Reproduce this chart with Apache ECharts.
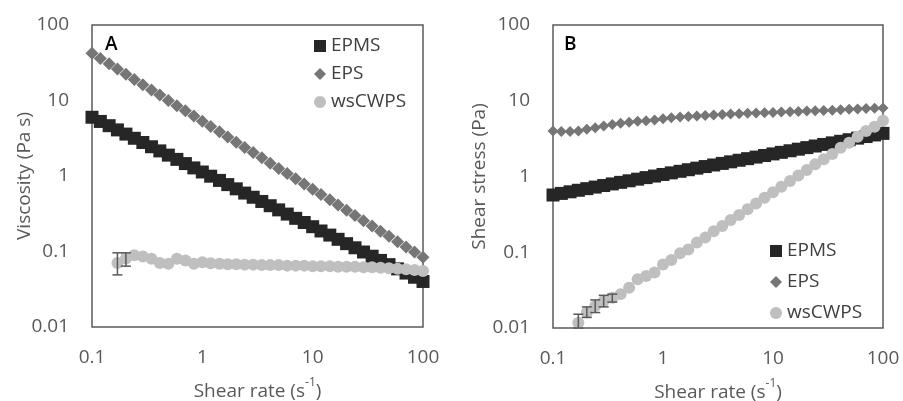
<!DOCTYPE html>
<html>
<head>
<meta charset="utf-8">
<script src="https://cdn.jsdelivr.net/npm/echarts@6/dist/echarts.min.js"></script>
<style>
html,body{margin:0;padding:0;background:#fff;}
#c{width:903px;height:401px;}
</style>
</head>
<body>
<div id="c"></div>
<script>
// Shear rate (s^-1)
const shearRate = [0.1, 0.119, 0.143, 0.170, 0.203, 0.242, 0.289, 0.346, 0.412, 0.492,
  0.588, 0.702, 0.838, 1, 1.19, 1.43, 1.70, 2.03, 2.42, 2.89,
  3.46, 4.12, 4.92, 5.88, 7.02, 8.38, 10, 11.9, 14.3, 17.0,
  20.3, 24.2, 28.9, 34.6, 41.2, 49.2, 58.8, 70.2, 83.8, 100];

// Panel A: viscosity (Pa s)
const viscEPMS = [6.00, 5.28, 4.64, 4.08, 3.59, 3.16, 2.78, 2.44, 2.15, 1.89,
  1.66, 1.46, 1.28, 1.13, 0.994, 0.874, 0.769, 0.676, 0.594, 0.523,
  0.460, 0.404, 0.356, 0.313, 0.275, 0.242, 0.213, 0.187, 0.165, 0.145,
  0.127, 0.112, 0.0985, 0.0866, 0.0762, 0.0670, 0.0589, 0.0518, 0.0456, 0.0401];
const viscEPS = [42.2, 35.9, 30.6, 26.1, 22.3, 19.0, 16.2, 13.8, 11.8, 10.0,
  8.55, 7.30, 6.22, 5.30, 4.52, 3.85, 3.29, 2.80, 2.39, 2.04,
  1.74, 1.48, 1.26, 1.08, 0.917, 0.782, 0.666, 0.568, 0.484, 0.413,
  0.352, 0.300, 0.256, 0.218, 0.186, 0.159, 0.135, 0.115, 0.0983, 0.0838];
const viscWs = [null, null, null, 0.0705, 0.0805, 0.089, 0.086, 0.080, 0.0705, 0.069,
  0.080, 0.076, 0.069, 0.072, 0.070, 0.069, 0.068, 0.068, 0.067, 0.067,
  0.066, 0.066, 0.066, 0.065, 0.065, 0.065, 0.064, 0.064, 0.064, 0.063,
  0.063, 0.063, 0.062, 0.062, 0.061, 0.060, 0.059, 0.058, 0.057, 0.055];
const viscErrIdx = [3, 4];
const viscErrLow = [0.049, 0.064];
const viscErrHigh = [0.096, 0.096];

// Panel B: shear stress (Pa)
const stressEPMS = [0.570, 0.598, 0.628, 0.658, 0.691, 0.725, 0.760, 0.798, 0.837, 0.878,
  0.922, 0.967, 1.014, 1.064, 1.117, 1.171, 1.229, 1.289, 1.353, 1.419,
  1.489, 1.562, 1.639, 1.720, 1.804, 1.893, 1.987, 2.084, 2.187, 2.294,
  2.407, 2.526, 2.650, 2.780, 2.917, 3.060, 3.211, 3.369, 3.534, 3.71];
const stressEPS = [3.99, 3.92, 3.92, 3.99, 4.2, 4.41, 4.64, 4.87, 5.04, 5.22,
  5.35, 5.46, 5.58, 5.78, 5.95, 6.1, 6.2, 6.3, 6.4, 6.5,
  6.58, 6.66, 6.74, 6.82, 6.9, 6.96, 7.02, 7.08, 7.15, 7.22,
  7.3, 7.38, 7.45, 7.52, 7.6, 7.7, 7.8, 7.88, 7.95, 8.05];
const stressWs = [null, null, null, 0.0117, 0.016, 0.0195, 0.0228, 0.025, 0.028, 0.034,
  0.044, 0.0487, 0.054, 0.069, 0.079, 0.097, 0.109, 0.134, 0.156, 0.19,
  0.222, 0.267, 0.31, 0.369, 0.44, 0.525, 0.618, 0.734, 0.87, 1.03,
  1.22, 1.45, 1.69, 1.98, 2.4, 2.79, 3.35, 3.98, 4.54, 5.46];
const stressErrIdx = [3, 4, 5, 6, 7];
const stressErrLow = [0.0100, 0.0138, 0.0160, 0.019, 0.022];
const stressErrHigh = [0.0152, 0.019, 0.0235, 0.027, 0.028];

const seriesNames = ['EPMS', 'EPS', 'wsCWPS'];
const xTicks = [0.1, 1, 10, 100];
const yTicks = [0.01, 0.1, 1, 10, 100];

const FONT = 'Open Sans';
const AXIS_COLOR = '#595959';
const TEXT_COLOR = '#595959';
const COLORS = ['#262626', '#767676', '#bfbfbf'];

function pairs(ys) {
  return shearRate.map((x, i) => ys[i] == null ? null : [x, ys[i]]).filter(p => p);
}
function errData(idx, lo, hi) {
  return idx.map((k, j) => [shearRate[k], lo[j], hi[j]]);
}
function tickFmt(v) {
  const t = [...xTicks, ...yTicks].find(t => Math.abs(v - t) / t < 1e-6);
  return t === undefined ? '' : String(t);
}

function errSeries(xi, yi, data) {
  return {
    type: 'custom',
    xAxisIndex: xi, yAxisIndex: yi,
    z: 5,
    silent: true,
    data: data,
    encode: { x: 0, y: [1, 2] },
    renderItem: function (params, api) {
      const x = api.value(0), lo = api.value(1), hi = api.value(2);
      const a = api.coord([x, lo]);
      const b = api.coord([x, hi]);
      const w = 5;
      const st = { stroke: AXIS_COLOR, lineWidth: 1.5 };
      return {
        type: 'group',
        children: [
          { type: 'line', shape: { x1: a[0], y1: a[1], x2: b[0], y2: b[1] }, style: st },
          { type: 'line', shape: { x1: a[0] - w, y1: a[1], x2: a[0] + w, y2: a[1] }, style: st },
          { type: 'line', shape: { x1: b[0] - w, y1: b[1], x2: b[0] + w, y2: b[1] }, style: st }
        ]
      };
    }
  };
}

function xAxisDef(gi) {
  return {
    type: 'log', logBase: 10, gridIndex: gi, min: 0.1, max: 100,
    axisLine: { show: false }, axisTick: { show: false }, splitLine: { show: false },
    axisLabel: { color: TEXT_COLOR, fontFamily: FONT, fontSize: 19, margin: 21, formatter: tickFmt },
    name: '{a|Shear rate (s}{s|-1}{a|)}',
    nameLocation: 'middle', nameGap: 50,
    nameTextStyle: {
      rich: {
        a: { fontFamily: FONT, fontSize: 19, color: TEXT_COLOR, lineHeight: 24, verticalAlign: 'bottom' },
        s: { fontFamily: FONT, fontSize: 12, color: TEXT_COLOR, lineHeight: 24, verticalAlign: 'top' }
      }
    }
  };
}
function yAxisDef(gi, name, gap) {
  return {
    type: 'log', logBase: 10, gridIndex: gi, min: 0.01, max: 100,
    axisLine: { show: false }, axisTick: { show: false }, splitLine: { show: false },
    axisLabel: { color: TEXT_COLOR, fontFamily: FONT, fontSize: 19, margin: 23, formatter: tickFmt },
    name: name, nameLocation: 'middle', nameGap: gap, nameRotate: 90, nameMoveOverlap: false,
    nameTextStyle: { fontFamily: FONT, fontSize: 19, color: TEXT_COLOR }
  };
}

const symbols = ['rect', 'diamond', 'circle'];
function scat(xi, yi, k, ys, size) {
  return {
    name: seriesNames[k], type: 'scatter', xAxisIndex: xi, yAxisIndex: yi,
    symbol: symbols[k], symbolSize: size, z: 2 + k,
    itemStyle: { color: COLORS[k], opacity: 1 },
    data: pairs(ys)
  };
}

const chart = echarts.init(document.getElementById('c'), null, { renderer: 'canvas' });
chart.setOption({
  animation: false,
  backgroundColor: '#ffffff',
  grid: [
    { left: 92, top: 25, width: 331, height: 302, outerBoundsMode: 'none', containLabel: false, show: true, borderColor: AXIS_COLOR, borderWidth: 1.5, backgroundColor: 'transparent' },
    { left: 553, top: 25, width: 330, height: 303, outerBoundsMode: 'none', containLabel: false, show: true, borderColor: AXIS_COLOR, borderWidth: 1.5, backgroundColor: 'transparent' }
  ],
  xAxis: [xAxisDef(0), xAxisDef(1)],
  yAxis: [yAxisDef(0, 'Viscosity (Pa s)', 58), yAxisDef(1, 'Shear stress (Pa)', 64)],
  legend: [
    {
      data: seriesNames, orient: 'vertical', left: 309, top: 30,
      itemWidth: 12, itemHeight: 12, itemGap: 6,
      textStyle: { fontFamily: FONT, fontSize: 19, color: '#404040', lineHeight: 22 },
      selectedMode: false
    },
    {
      data: seriesNames, orient: 'vertical', left: 765, top: 235,
      itemWidth: 12, itemHeight: 12, itemGap: 9,
      textStyle: { fontFamily: FONT, fontSize: 19, color: '#404040', lineHeight: 22 },
      selectedMode: false
    }
  ],
  graphic: [
    { type: 'text', left: 105, top: 35, style: { text: 'A', fontFamily: FONT, fontSize: 19, fontWeight: 600, fill: '#000' } },
    { type: 'text', left: 564, top: 35, style: { text: 'B', fontFamily: FONT, fontSize: 19, fontWeight: 600, fill: '#000' } }
  ],
  series: [
    scat(0, 0, 0, viscEPMS, 13),
    scat(0, 0, 1, viscEPS, 13),
    scat(0, 0, 2, viscWs, 12),
    errSeries(0, 0, errData(viscErrIdx, viscErrLow, viscErrHigh)),
    scat(1, 1, 0, stressEPMS, 13),
    scat(1, 1, 1, stressEPS, 11),
    scat(1, 1, 2, stressWs, 12),
    errSeries(1, 1, errData(stressErrIdx, stressErrLow, stressErrHigh))
  ]
});
</script>
</body>
</html>
